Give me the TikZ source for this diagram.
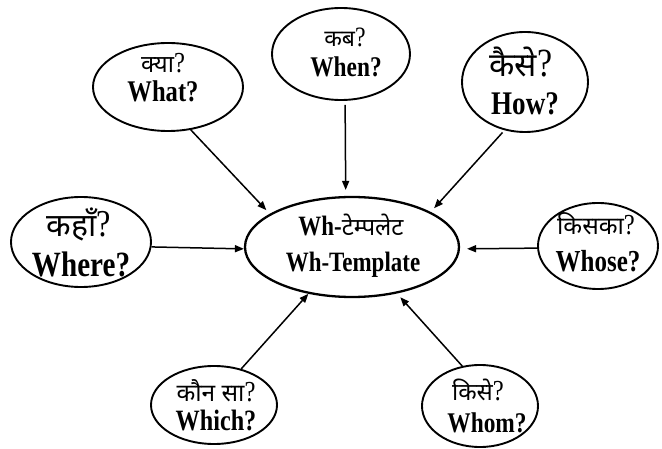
\documentclass[tikz,border=0pt]{standalone}
\usepackage{fontspec}
\setmainfont{Liberation Serif}[FakeStretch=0.82]
\newfontfamily\hin[Script=Devanagari]{Noto Sans}
\newfontfamily\qm{Liberation Serif}[FakeStretch=0.85]
\usetikzlibrary{shapes.geometric,arrows.meta}
\newcommand\fsz[1]{\fontsize{#1}{#1}\selectfont}
\newcommand\hq[1]{{\qm\mdseries\fsz{#1}?}}
\begin{document}
\begin{tikzpicture}[x=1pt,y=-1pt,
  bubble/.style={draw, ellipse, line width=1.9pt, inner sep=0pt},
  hi/.style={anchor=base, font=\hin},
  en/.style={anchor=base, font=\bfseries},
  arr/.style={line width=1.5pt, -{Triangle[length=9pt,width=7pt]}}]
\useasboundingbox (0,0) rectangle (662,449);
\fill[white] (0,0) rectangle (662,449);
% bubbles
\node[bubble, minimum width=214pt, minimum height=100pt, line width=2.3pt] (c) at (352,247) {};
\node[bubble, minimum width=150pt, minimum height=88pt] (what) at (168,87) {};
\node[bubble, minimum width=138pt, minimum height=92pt] (when) at (341,54) {};
\node[bubble, minimum width=126pt, minimum height=100pt] (how) at (525,82) {};
\node[bubble, minimum width=140pt, minimum height=90pt] (where) at (81,242) {};
\node[bubble, minimum width=120pt, minimum height=86pt] (whose) at (598,246) {};
\node[bubble, minimum width=126pt, minimum height=78pt] (which) at (214,405) {};
\node[bubble, minimum width=116pt, minimum height=82pt] (whom) at (480,406) {};
% texts
\node[hi] (whath) at (163,73) {\fsz{24}क्या\hq{29}};
\node[en] (whate) at (163,102) {\fsz{30}What?};
\node[hi] (whenh) at (345,47) {\fsz{23}कब\hq{28}};
\node[en] (whene) at (346,77) {\fsz{28.5}When?};
\node[hi] (howh) at (521,77) {\fsz{33}कैसे\hq{40}};
\node[en] (howe) at (525,115) {\fsz{33}How?};
\node[hi] (whereh) at (79,237) {\fsz{32}कहाँ\hq{38}};
\node[en] (wheree) at (81,277) {\fsz{35.5}Where?};
\node[hi] (whoseh) at (596,235) {\fsz{24.5}किसका\hq{29}};
\node[en] (whosee) at (598,272) {\fsz{30.5}Whose?};
\node[hi] (whichh) at (216,402) {\fsz{24.5}कौन सा\hq{29}};
\node[en] (whiche) at (216,430) {\fsz{29.5}Which?};
\node[hi] (whomh) at (478,400) {\fsz{24}किसे\hq{29}};
\node[en] (whome) at (487,432) {\fsz{28.5}Whom?};
\node[en] (ch) at (351,236) {\fsz{28}Wh-{\hin\mdseries\fsz{24}टेम्पलेट}};
\node[en] (ce) at (353,272) {\fsz{28}Wh-Template};
% arrows
\draw[arr, shorten >=5pt] (what.-62) -- (c.158);
\draw[arr, shorten <=4pt, shorten >=6pt] (when.-85) -- (c.97);
\draw[arr, shorten <=3pt, shorten >=5pt] (how.247) -- (c.24.5);
\draw[arr] (where.-4) -- (c.181);
\draw[arr, shorten >=7pt] (whose.182) -- (c.-1);
\draw[arr] (which.53) -- (c.227.5);
\draw[arr, shorten >=5pt] (whom.114) -- (c.-46);
\end{tikzpicture}
\end{document}
